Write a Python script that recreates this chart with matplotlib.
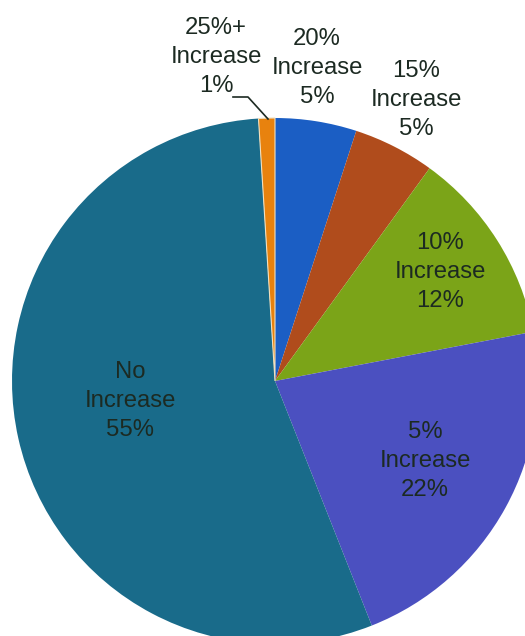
import matplotlib
matplotlib.use("Agg")
import matplotlib.pyplot as plt

categories = ["20%\nIncrease", "15%\nIncrease", "10%\nIncrease", "5%\nIncrease", "No\nIncrease", "25%+\nIncrease"]
values = [5, 5, 12, 22, 55, 1]
colors = ["#1b5ec4", "#b04c1c", "#7ba418", "#4b50c0", "#196b8a", "#e8820e"]

W, H = 525, 636
fig = plt.figure(figsize=(W / 100, H / 100), dpi=100)
ax = fig.add_axes([0, 0, 1, 1])
cx, cy, r = 275, H - 381, 263
wedges, _ = ax.pie(values, colors=colors, startangle=90, counterclock=False,
                   center=(cx, cy), radius=r,
                   wedgeprops=dict(edgecolor="none"))
wedges[-1].set_edgecolor("#f0e0c0")
wedges[-1].set_linewidth(0.8)
ax.set_xlim(0, W)
ax.set_ylim(0, H)
ax.set_aspect("equal")
ax.axis("off")

labels = [f"{c}\n{v}%" for c, v in zip(categories, values)]
# label positions in pixel coordinates (x, y from top)
pos = [(317, 68), (416, 100), (440, 272), (425, 461), (130, 401), (216, 57)]
font = dict(family=["Liberation Sans", "DejaVu Sans"], fontsize=17.2,
            color="#1c2a22", ha="center", va="center", linespacing=1.42)
for lab, (x, y) in zip(labels, pos):
    ax.text(x, H - y, lab, **font)

# leader line for smallest slice
ax.plot([233, 248, 268], [H - 97, H - 97, H - 119], color="#1c2a22", lw=1.2)

fig.savefig("out.png", dpi=100)
